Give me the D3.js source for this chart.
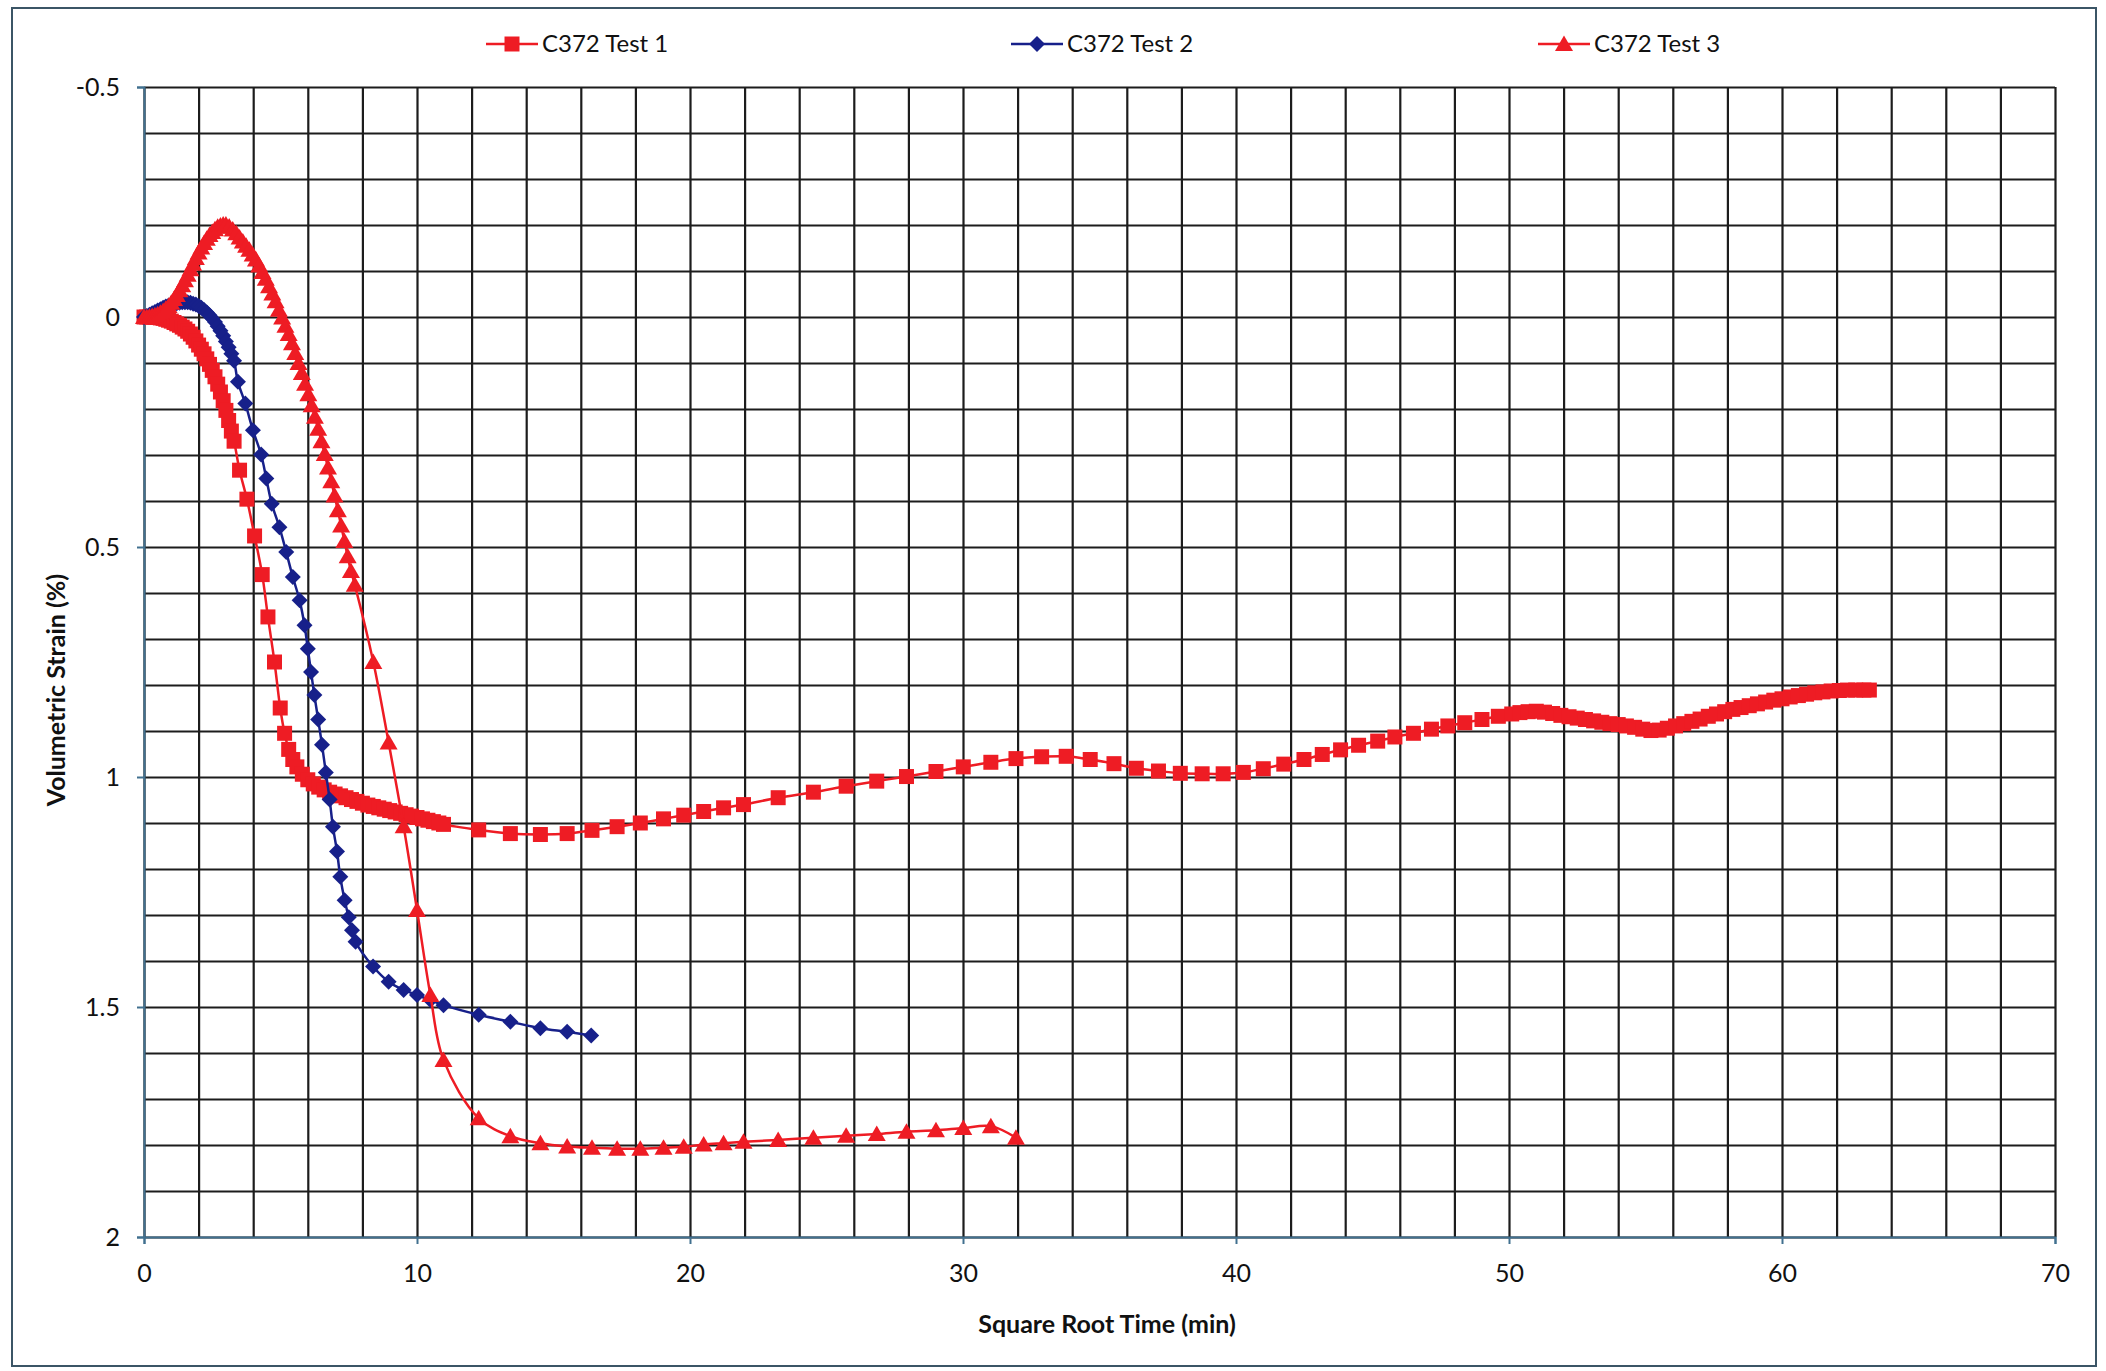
<!DOCTYPE html>
<html>
<head>
<meta charset="utf-8">
<script src="https://cdn.jsdelivr.net/npm/d3@7"></script>
<style>
  body { margin: 0; background: #fff; }
  svg { display: block; font-family: Lato, 'Open Sans', sans-serif; }
</style>
</head>
<body>
<div id="chart"></div>
<script>
// Series: [square root time (min), volumetric strain (%)]
const seriesNames = ['C372 Test 1', 'C372 Test 2', 'C372 Test 3']

const test1 = [
  [0, 0], [0.1, 0], [0.2, 0], [0.3, 0], [0.4, 0], [0.5, 0.001], [0.6, 0.002], [0.7, 0.003],
  [0.8, 0.005], [0.9, 0.007], [1.0, 0.009], [1.1, 0.012], [1.2, 0.015], [1.3, 0.018], [1.4, 0.022],
  [1.5, 0.026], [1.6, 0.031], [1.7, 0.037], [1.8, 0.044], [1.9, 0.052], [2.0, 0.061], [2.1, 0.07],
  [2.2, 0.08], [2.3, 0.091], [2.4, 0.103], [2.5, 0.116], [2.6, 0.13], [2.7, 0.146], [2.8, 0.163],
  [2.9, 0.182], [3.0, 0.203], [3.1, 0.225], [3.2, 0.248], [3.3, 0.27],
  [3.5, 0.333], [3.77, 0.396], [4.05, 0.476], [4.33, 0.56], [4.54, 0.652], [4.78, 0.75],
  [4.99, 0.85], [5.15, 0.905],
  [5.3, 0.94], [5.45, 0.962], [5.6, 0.978], [5.8, 0.994], [6.0, 1.006], [6.2, 1.015], [6.4, 1.022],
  [6.6, 1.028], [6.8, 1.033], [7.0, 1.037], [7.2, 1.041], [7.4, 1.045], [7.6, 1.049], [7.8, 1.053],
  [8.0, 1.057], [8.2, 1.061], [8.4, 1.064], [8.6, 1.067], [8.8, 1.07], [9.0, 1.073], [9.2, 1.076],
  [9.4, 1.079], [9.6, 1.082], [9.8, 1.085], [10.0, 1.088], [10.2, 1.091], [10.4, 1.094],
  [10.6, 1.097], [10.8, 1.1], [10.97, 1.103],
  [12.26, 1.115], [13.42, 1.123], [14.52, 1.125], [15.5, 1.123], [16.41, 1.116], [17.33, 1.108],
  [18.18, 1.1], [19.03, 1.091], [19.77, 1.083], [20.5, 1.075], [21.23, 1.067], [21.96, 1.06],
  [23.23, 1.045], [24.52, 1.033], [25.72, 1.02], [26.84, 1.009], [27.93, 0.999], [29.01, 0.988],
  [30.01, 0.978], [31.02, 0.968], [31.94, 0.96], [32.88, 0.956], [33.78, 0.955], [34.66, 0.962],
  [35.53, 0.971], [36.35, 0.981], [37.16, 0.987], [37.96, 0.992], [38.76, 0.993], [39.53, 0.993],
  [40.27, 0.99], [41.0, 0.982], [41.75, 0.972], [42.49, 0.962], [43.16, 0.951], [43.83, 0.941],
  [44.49, 0.931], [45.19, 0.922], [45.82, 0.913], [46.5, 0.905], [47.16, 0.896], [47.76, 0.889],
  [48.38, 0.882], [49.01, 0.875], [49.61, 0.868],
  [50.1, 0.863], [50.4, 0.86], [50.7, 0.858], [51.0, 0.857], [51.3, 0.859], [51.6, 0.862],
  [51.9, 0.866], [52.2, 0.869], [52.5, 0.872], [52.8, 0.875], [53.1, 0.878], [53.4, 0.881],
  [53.7, 0.884], [54.0, 0.886], [54.3, 0.889], [54.6, 0.892], [54.9, 0.896], [55.2, 0.899],
  [55.5, 0.898], [55.8, 0.894], [56.1, 0.889], [56.4, 0.884], [56.7, 0.879], [57.0, 0.874],
  [57.3, 0.868], [57.6, 0.863], [57.9, 0.858], [58.2, 0.853], [58.5, 0.849], [58.8, 0.845],
  [59.1, 0.841], [59.4, 0.837], [59.7, 0.833], [60.0, 0.83], [60.3, 0.826], [60.6, 0.823],
  [60.9, 0.82], [61.2, 0.817], [61.5, 0.815], [61.8, 0.813], [62.1, 0.812], [62.4, 0.811],
  [62.7, 0.811], [63.0, 0.811], [63.2, 0.811]
]

const test2 = [
  [0, 0], [0.1, -0.002], [0.2, -0.005], [0.3, -0.008], [0.4, -0.011], [0.5, -0.014], [0.6, -0.017],
  [0.7, -0.02], [0.8, -0.023], [0.9, -0.025], [1.0, -0.027], [1.1, -0.029], [1.2, -0.03],
  [1.3, -0.031], [1.4, -0.032], [1.5, -0.032], [1.6, -0.032], [1.7, -0.031], [1.8, -0.029],
  [1.9, -0.027], [2.0, -0.024], [2.1, -0.02], [2.2, -0.015], [2.3, -0.01], [2.4, -0.004],
  [2.5, 0.003], [2.6, 0.011], [2.7, 0.02], [2.8, 0.03], [2.9, 0.041], [3.0, 0.053], [3.1, 0.066],
  [3.2, 0.08], [3.3, 0.095],
  [3.44, 0.141], [3.71, 0.188], [3.99, 0.246], [4.29, 0.299], [4.48, 0.351], [4.68, 0.406],
  [4.96, 0.457], [5.21, 0.511], [5.45, 0.565], [5.7, 0.616], [5.88, 0.67], [6.0, 0.721],
  [6.12, 0.772], [6.24, 0.822], [6.38, 0.875], [6.52, 0.93], [6.66, 0.99], [6.8, 1.049],
  [6.92, 1.108], [7.07, 1.162], [7.19, 1.217], [7.35, 1.268], [7.5, 1.305], [7.62, 1.333],
  [7.75, 1.358], [8.39, 1.412], [8.96, 1.445], [9.51, 1.463], [10.0, 1.474], [10.49, 1.485],
  [10.97, 1.496], [12.26, 1.517], [13.42, 1.532], [14.52, 1.546], [15.5, 1.554], [16.38, 1.562]
]

const test3 = [
  [0, 0], [0.1, 0], [0.2, -0.001], [0.3, -0.002], [0.4, -0.004], [0.5, -0.006], [0.6, -0.009],
  [0.7, -0.013], [0.8, -0.018], [0.9, -0.024], [1.0, -0.031], [1.1, -0.039], [1.2, -0.048],
  [1.3, -0.058], [1.4, -0.069], [1.5, -0.08], [1.6, -0.092], [1.7, -0.104], [1.8, -0.116],
  [1.9, -0.128], [2.0, -0.14], [2.1, -0.151], [2.2, -0.161], [2.3, -0.17], [2.4, -0.178],
  [2.5, -0.185], [2.6, -0.191], [2.7, -0.196], [2.8, -0.199], [2.9, -0.201], [3.0, -0.201],
  [3.12, -0.197], [3.25, -0.19], [3.38, -0.182], [3.5, -0.173], [3.62, -0.164], [3.74, -0.155],
  [3.86, -0.146], [3.98, -0.136], [4.1, -0.125], [4.22, -0.112], [4.34, -0.098], [4.46, -0.083],
  [4.58, -0.067], [4.7, -0.051], [4.82, -0.034], [4.94, -0.016], [5.06, 0.001], [5.18, 0.019],
  [5.3, 0.037], [5.42, 0.057], [5.54, 0.078], [5.66, 0.1], [5.78, 0.122], [5.9, 0.145],
  [6.02, 0.168], [6.14, 0.192], [6.26, 0.217], [6.38, 0.243], [6.5, 0.27], [6.62, 0.298],
  [6.74, 0.327], [6.86, 0.357], [6.98, 0.388], [7.1, 0.42], [7.22, 0.453], [7.34, 0.487],
  [7.46, 0.52], [7.58, 0.552], [7.72, 0.582],
  [8.4, 0.75], [8.96, 0.925], [9.51, 1.107], [10.0, 1.289], [10.49, 1.474], [10.97, 1.615],
  [12.26, 1.742], [13.42, 1.781], [14.52, 1.796], [15.5, 1.803], [16.41, 1.806], [17.33, 1.808],
  [18.18, 1.808], [19.03, 1.806], [19.77, 1.804], [20.5, 1.799], [21.23, 1.796], [21.96, 1.793],
  [23.23, 1.789], [24.52, 1.784], [25.72, 1.78], [26.84, 1.776], [27.93, 1.771], [29.01, 1.768],
  [30.01, 1.763], [31.02, 1.759], [31.94, 1.784]
]

const xTicks = [0, 10, 20, 30, 40, 50, 60, 70]
const yTicks = [-0.5, 0, 0.5, 1, 1.5, 2]

const width = 2106, height = 1371
const margin = {top: 87, right: 51, bottom: 134, left: 144}
const plotW = width - margin.left - margin.right
const plotH = height - margin.top - margin.bottom

const red = '#ee1c24', navy = '#17208a', gridColor = '#1c1c1c', axisColor = '#41708f'

// Excel-like marker shapes
const markers = {
  square: 'M-7.5,-7.5H7.5V7.5H-7.5Z',
  diamond: 'M0,-8L8,0L0,8L-8,0Z',
  triangle: 'M0,-8.5L9,7H-9Z'
}

const series = [
  {name: seriesNames[0], data: test1, color: red, marker: markers.square},
  {name: seriesNames[1], data: test2, color: navy, marker: markers.diamond},
  {name: seriesNames[2], data: test3, color: red, marker: markers.triangle}
]

const svg = d3.select('#chart')
  .append('svg')
    .attr('width', width)
    .attr('height', height)

svg.append('rect')
  .attr('width', width).attr('height', height)
  .attr('fill', '#fff')

// outer chart border
svg.append('rect')
  .attr('x', 12).attr('y', 8)
  .attr('width', 2084).attr('height', 1358)
  .attr('fill', 'none')
  .attr('stroke', '#3b5566')
  .attr('stroke-width', 2)

const g = svg.append('g')
  .attr('transform', `translate(${margin.left}, ${margin.top})`)

const x = d3.scaleLinear().domain([0, 70]).range([0, plotW])
const y = d3.scaleLinear().domain([-0.5, 2]).range([0, plotH])

// grid every 2 on x and every 0.1 on y
g.append('g')
  .attr('class', 'grid')
  .attr('transform', `translate(0, ${plotH})`)
  .call(d3.axisBottom(x).tickValues(d3.range(0, 36).map(i => i * 2)).tickSize(-plotH).tickFormat(''))
g.append('g')
  .attr('class', 'grid')
  .call(d3.axisLeft(y).tickValues(d3.range(-5, 21).map(i => i / 10)).tickSize(-plotW).tickFormat(''))
g.selectAll('.grid .domain').remove()
g.selectAll('.grid line')
  .attr('stroke', gridColor)
  .attr('stroke-width', 2.2)

// axes
const xAxis = g.append('g')
  .attr('transform', `translate(0, ${plotH})`)
  .call(d3.axisBottom(x).tickValues(xTicks).tickSize(7).tickPadding(20).tickFormat(d => String(d)))
const yAxis = g.append('g')
  .call(d3.axisLeft(y).tickValues(yTicks).tickSize(7).tickPadding(17).tickFormat(d => String(d)))

;[xAxis, yAxis].forEach(axis => {
  axis.select('.domain').attr('stroke', axisColor).attr('stroke-width', 2)
  axis.selectAll('.tick line').attr('stroke', axisColor).attr('stroke-width', 2)
  axis.selectAll('text')
    .attr('fill', '#111')
    .style('font-size', '25px')
    .style('font-family', 'Lato, sans-serif')
})

// axis titles
svg.append('text')
  .attr('x', 1107)
  .attr('y', 1333)
  .attr('text-anchor', 'middle')
  .style('font-size', '25px')
  .style('font-weight', 'bold')
  .attr('fill', '#111')
  .text('Square Root Time (min)')

svg.append('text')
  .attr('transform', 'translate(65, 690) rotate(-90)')
  .attr('text-anchor', 'middle')
  .style('font-size', '25px')
  .style('font-weight', 'bold')
  .attr('fill', '#111')
  .text('Volumetric Strain (%)')

// series
const line = d3.line()
  .x(d => x(d[0]))
  .y(d => y(d[1]))
  .curve(d3.curveCatmullRom.alpha(0.5))

series.forEach(s => {
  const sg = g.append('g')
  sg.append('path')
    .attr('d', line(s.data))
    .attr('fill', 'none')
    .attr('stroke', s.color)
    .attr('stroke-width', 2.5)
  sg.selectAll('path.pt')
    .data(s.data)
    .enter().append('path')
      .attr('class', 'pt')
      .attr('d', s.marker)
      .attr('transform', d => `translate(${x(d[0])}, ${y(d[1])})`)
      .attr('fill', s.color)
})

// legend
const legendX = [486, 1011, 1538]
series.forEach((s, i) => {
  const lg = svg.append('g').attr('transform', `translate(${legendX[i]}, 44)`)
  lg.append('line')
    .attr('x1', 0).attr('x2', 52)
    .attr('stroke', s.color)
    .attr('stroke-width', 2.5)
  lg.append('path')
    .attr('d', s.marker)
    .attr('transform', 'translate(26, 0)')
    .attr('fill', s.color)
  lg.append('text')
    .attr('x', 56)
    .attr('dy', '0.35em')
    .style('font-size', '24px')
    .attr('fill', '#111')
    .text(s.name)
})
</script>
</body>
</html>
